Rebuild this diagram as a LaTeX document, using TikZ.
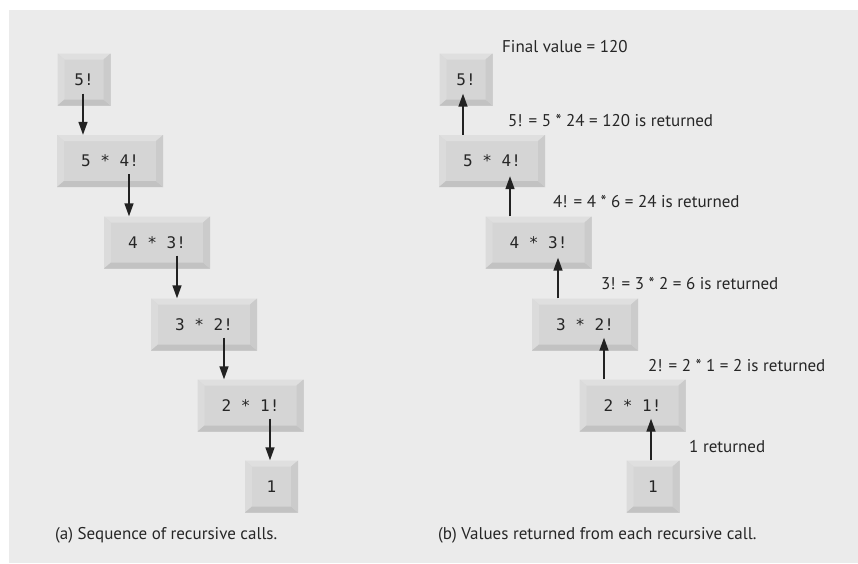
\documentclass[tikz,border=0pt]{standalone}
\usepackage{fontspec}
\setmainfont{PT Sans}
\newfontfamily\boxfont{DejaVu Sans Mono}
\usetikzlibrary{arrows.meta}
\definecolor{panelbg}{HTML}{EBEBEB}
\definecolor{keyface}{HTML}{D5D5D5}
\definecolor{keytop}{HTML}{DFDFDF}
\definecolor{keyleft}{HTML}{DBDBDB}
\definecolor{keybot}{HTML}{C2C2C2}
\definecolor{keyright}{HTML}{CBCBCB}
\definecolor{arrowcol}{HTML}{222222}
\tikzset{
  keybox/.style={inner sep=0pt, minimum height=52pt, fill=keyface,
    font=\boxfont\fontsize{16}{19}\selectfont, text=black!85,
    path picture={
      \coordinate (NW) at (path picture bounding box.north west);
      \coordinate (NE) at (path picture bounding box.north east);
      \coordinate (SW) at (path picture bounding box.south west);
      \coordinate (SE) at (path picture bounding box.south east);
      \fill[keytop] (NW) -- (NE) -- ([xshift=-7pt,yshift=-6pt]NE) -- ([xshift=7pt,yshift=-6pt]NW) -- cycle;
      \fill[keyleft] (NW) -- ([xshift=7pt,yshift=-6pt]NW) -- ([xshift=7pt,yshift=6pt]SW) -- (SW) -- cycle;
      \fill[keybot] (SW) -- ([xshift=7pt,yshift=6pt]SW) -- ([xshift=-7pt,yshift=6pt]SE) -- (SE) -- cycle;
      \fill[keyright] (NE) -- (SE) -- ([xshift=-7pt,yshift=6pt]SE) -- ([xshift=-7pt,yshift=-6pt]NE) -- cycle;
    }},
  widekey/.style={keybox, minimum width=106pt},
  smallkey/.style={keybox, minimum width=53pt},
  arr/.style={draw=arrowcol, line width=1.5pt, -{Triangle[length=13pt,width=9pt]}},
  lbl/.style={anchor=west, inner sep=0pt, font=\fontsize{17}{20}\selectfont, text=black!85},
}
\begin{document}
\begin{tikzpicture}[x=1pt,y=-1pt]
\useasboundingbox (0,0) rectangle (858,563);
\fill[panelbg] (9,10) rectangle (858,563);
% left panel
\node[smallkey] (A1) at (84,79.5) {5!};
\node[widekey] (A2) at (110,161) {5 * 4!};
\node[widekey] (A3) at (157,242.5) {4 * 3!};
\node[widekey] (A4) at (204,324.5) {3 * 2!};
\node[widekey] (A5) at (250.5,405.5) {2 * 1!};
\node[smallkey] (A6) at (271.5,486.5) {1};
\draw[arr] ([xshift=-1pt,yshift=12pt]A1.south) -- ([xshift=-1pt]A1.south |- A2.north);
\draw[arr] ([xshift=19pt,yshift=13pt]A2.south) -- ([xshift=19pt]A2.south |- A3.north);
\draw[arr] ([xshift=20pt,yshift=13pt]A3.south) -- ([xshift=20pt]A3.south |- A4.north);
\draw[arr] ([xshift=20pt,yshift=13pt]A4.south) -- ([xshift=20pt]A4.south |- A5.north);
\draw[arr] ([xshift=19.5pt,yshift=13pt]A5.south) -- ([xshift=19.5pt]A5.south |- A6.north);
\node[lbl] (capA) at (55,535) {(a) Sequence of recursive calls.};
% right panel
\node[smallkey] (B1) at (466,79.5) {5!};
\node[widekey] (B2) at (492,161) {5 * 4!};
\node[widekey] (B3) at (538.5,242.5) {4 * 3!};
\node[widekey] (B4) at (585,324.5) {3 * 2!};
\node[widekey] (B5) at (632.5,405.5) {2 * 1!};
\node[smallkey] (B6) at (653,486.5) {1};
\draw[arr] ([xshift=-3pt]B1.south |- B2.north) -- ([xshift=-3pt,yshift=12pt]B1.south);
\draw[arr] ([xshift=18pt]B2.south |- B3.north) -- ([xshift=18pt,yshift=11pt]B2.south);
\draw[arr] ([xshift=19.5pt]B3.south |- B4.north) -- ([xshift=19.5pt,yshift=11pt]B3.south);
\draw[arr] ([xshift=19pt]B4.south |- B5.north) -- ([xshift=19pt,yshift=13pt]B4.south);
\draw[arr] ([xshift=18.5pt]B5.south |- B6.north) -- ([xshift=18.5pt,yshift=13pt]B5.south);
\node[lbl] (L0) at (502,47) {Final value = 120};
\node[lbl] (L1) at (508,121) {5! = 5 * 24 = 120 is returned};
\node[lbl] (L2) at (553,202) {4! = 4 * 6 = 24 is returned};
\node[lbl] (L3) at (601,284) {3! = 3 * 2 = 6 is returned};
\node[lbl] (L4) at (648,366) {2! = 2 * 1 = 2 is returned};
\node[lbl] (L5) at (689,447) {1 returned};
\node[lbl] (capB) at (438,535) {(b) Values returned from each recursive call.};
\end{tikzpicture}
\end{document}
